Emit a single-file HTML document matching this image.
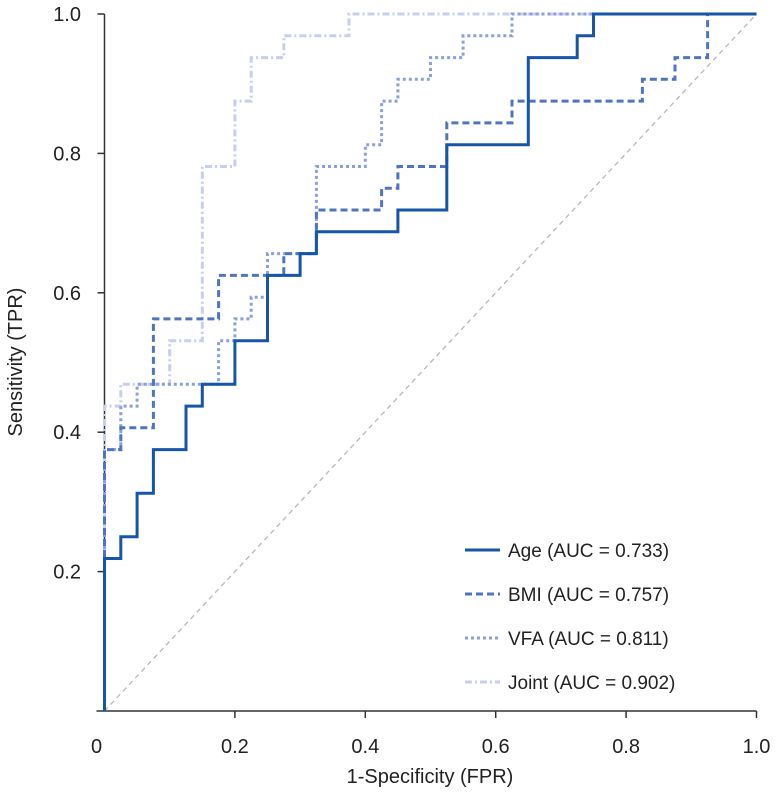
<!DOCTYPE html>
<html><head><meta charset="utf-8"><style>
html,body{margin:0;padding:0;background:#fff;}
svg text{font-family:"Liberation Sans",sans-serif;fill:#222;}
</style></head><body>
<svg width="776" height="806" viewBox="0 0 776 806">
<g id="axes"></g><g id="curves"></g><g id="legend"></g>
</svg>
<script>
const xTicks=[0.2,0.4,0.6,0.8,1.0];
const xTickLabels=["0.2","0.4","0.6","0.8","1.0"];
const yTicks=[0.2,0.4,0.6,0.8,1.0];
const yTickLabels=["0.2","0.4","0.6","0.8","1.0"];
const seriesNames=["Age (AUC = 0.733)","BMI (AUC = 0.757)","VFA (AUC = 0.811)","Joint (AUC = 0.902)"];
// FPR in 40ths, TPR in 32nds
const ageFpr=[0,0,1,1,2,2,3,3,5,5,6,6,8,8,10,10,12,12,13,13,18,18,21,21,26,26,29,29,30,30,40];
const ageTpr=[0,7,7,8,8,10,10,12,12,14,14,15,15,17,17,20,20,21,21,22,22,23,23,26,26,30,30,31,31,32,32];
const bmiFpr=[0,0,1,1,3,3,7,7,11,11,13,13,17,17,18,18,21,21,25,25,33,33,35,35,37,37,40];
const bmiTpr=[0,12,12,13,13,18,18,20,20,21,21,23,23,24,24,25,25,27,27,28,28,29,29,30,30,32,32];
const vfaFpr=[0,0,1,1,2,2,7,7,8,8,9,9,10,10,13,13,16,16,17,17,18,18,20,20,22,22,25,25,40];
const vfaTpr=[0,12,12,14,14,15,15,17,17,18,18,19,19,21,21,25,25,26,26,28,28,29,29,30,30,31,31,32,32];
const jointFpr=[0,0,1,1,4,4,6,6,8,8,9,9,11,11,15,15,40];
const jointTpr=[0,14,14,15,15,17,17,25,25,28,28,30,30,31,31,32,32];
const NS="http://www.w3.org/2000/svg";
const X0=104.5,X1=756.5,Y0=711,Y1=14;
const xs=v=>X0+v*(X1-X0), ys=v=>Y0-v*(Y0-Y1);
function mk(tag,attrs,parent){const e=document.createElementNS(NS,tag);for(const k in attrs)e.setAttribute(k,attrs[k]);parent.appendChild(e);return e;}
const axes=document.getElementById('axes');
let d=mk('line',{x1:xs(0),y1:ys(0),x2:xs(1),y2:ys(1),stroke:'#b8b8b8','stroke-width':1.3,'stroke-dasharray':'5,4'},axes);


let ax=mk('line',{x1:X0,y1:Y1,x2:X0,y2:Y0,stroke:'#333','stroke-width':1.5},axes);


let bx=mk('line',{x1:X0-8,y1:Y0,x2:X1,y2:Y0,stroke:'#333','stroke-width':1.5},axes);


xTicks.forEach((v,i)=>{
 let t=mk('line',{x1:xs(v),y1:Y0,x2:xs(v),y2:Y0+7,stroke:'#333','stroke-width':1.5},axes);
 
 
 let l=mk('text',{x:xs(v),y:753,'font-size':20,'text-anchor':'middle'},axes);l.textContent=xTickLabels[i];
 
 
});
yTicks.forEach((v,i)=>{
 let t=mk('line',{x1:X0-7,y1:ys(v),x2:X0,y2:ys(v),stroke:'#333','stroke-width':1.5},axes);
 
 
 let l=mk('text',{x:81,y:ys(v)+7,'font-size':20,'text-anchor':'end'},axes);l.textContent=yTickLabels[i];
 
 
});
let z=mk('text',{x:X0-8,y:753,'font-size':20,'text-anchor':'middle'},axes);z.textContent="0";


let xt=mk('text',{x:430,y:783,'font-size':20,'text-anchor':'middle'},axes);xt.textContent="1-Specificity (FPR)";


let yt=mk('text',{x:0,y:0,'font-size':20,'text-anchor':'middle',transform:'translate(22,362) rotate(-90)'},axes);yt.textContent="Sensitivity (TPR)";


const styles=[
 {c:'#1556a8',w:3,da:'none',n:'age-curve'},
 {c:'#4f74c0',w:3,da:'7,4',n:'bmi-curve'},
 {c:'#8a9fdc',w:3,da:'3,3',n:'vfa-curve'},
 {c:'#c8cfee',w:3,da:'7,3,2,3',n:'joint-curve'}];
const data=[[ageFpr,ageTpr],[bmiFpr,bmiTpr],[vfaFpr,vfaTpr],[jointFpr,jointTpr]];
const curves=document.getElementById('curves');
for(let s=3;s>=0;s--){
 const [f,t]=data[s];
 const pts=f.map((v,i)=>xs(v/40).toFixed(1)+','+ys(t[i]/32).toFixed(1)).join(' ');
 let p=mk('polyline',{points:pts,fill:'none',stroke:styles[s].c,'stroke-width':styles[s].w,'stroke-dasharray':styles[s].da},curves);
 
 
}
const lg=document.getElementById('legend');
seriesNames.forEach((n,i)=>{
 const y=550+i*44;
 let l=mk('line',{x1:465,y1:y,x2:500,y2:y,stroke:styles[i].c,'stroke-width':3,'stroke-dasharray':styles[i].da},lg);
 
 
 let t=mk('text',{x:508,y:y+7,'font-size':19},lg);t.textContent=n;
 
 
});
</script>
</body></html>
